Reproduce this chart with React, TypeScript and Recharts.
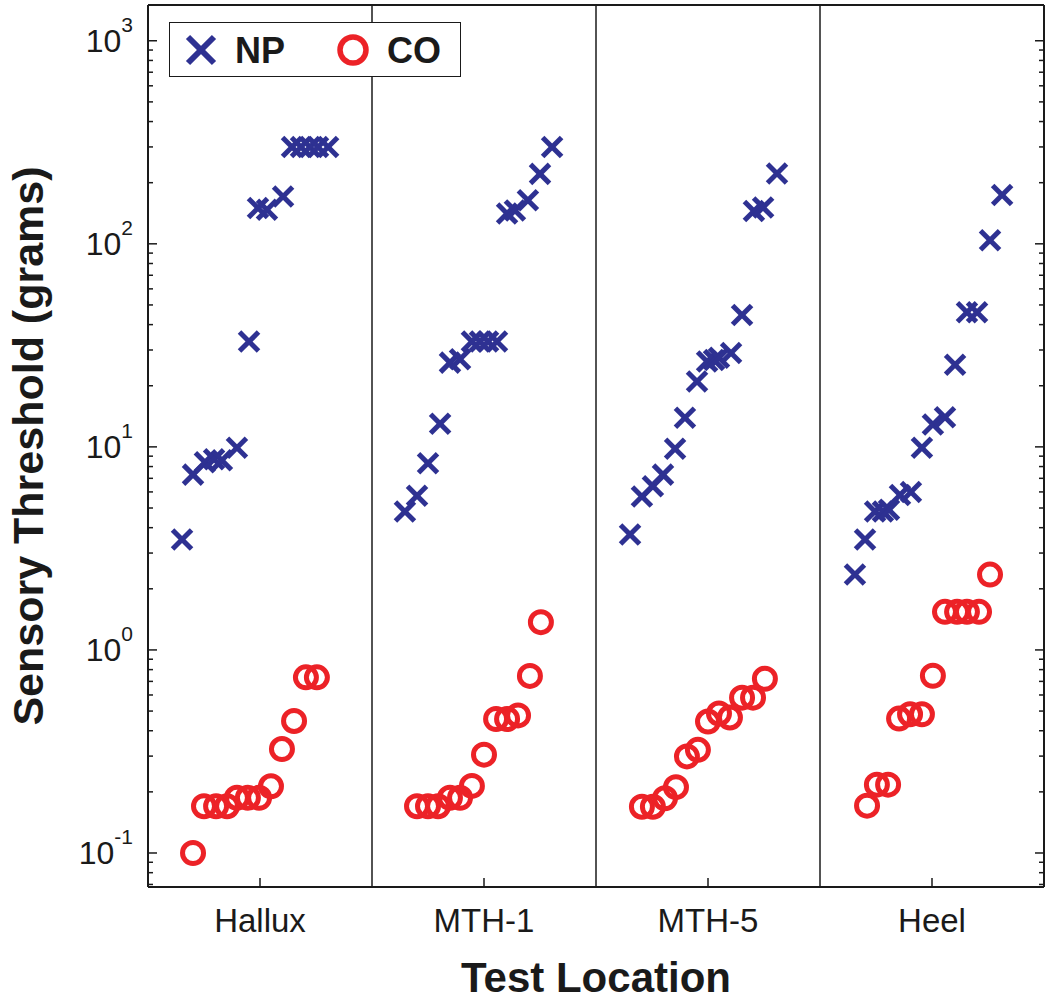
import React from "react";
import { ScatterChart, Scatter, XAxis, YAxis, ReferenceLine } from "recharts";

document.body.style.margin = "0";

const BLUE = "#2E3192";
const RED = "#EC2227";
const INK = "#1a1a1a";
const FONT = "'Liberation Sans', Arial, Helvetica, sans-serif";

// x categories: each location is one unit wide, centred on n + 0.5
const locations = ["Hallux", "MTH-1", "MTH-5", "Heel"];
const locationTicks = [0.5, 1.5, 2.5, 3.5];
const dividers = [1, 2, 3];

// y axis (log), decades with labels
const decadeTicks = [0.1, 1, 10, 100, 1000];
const decadeExponents = ["-1", "0", "1", "2", "3"];
const yDomain = [0.068, 1500];

// NP subjects: position along the x axis and threshold (grams)
const npX = [
  0.152, 0.201, 0.254, 0.295, 0.33, 0.397, 0.451, 0.491, 0.531, 0.603, 0.643, 0.683, 0.723, 0.759, 0.804, // Hallux
  1.147, 1.201, 1.25, 1.304, 1.348, 1.393, 1.446, 1.482, 1.518, 1.558, 1.603, 1.638, 1.696, 1.75, 1.804, // MTH-1
  2.152, 2.205, 2.254, 2.299, 2.353, 2.397, 2.451, 2.496, 2.527, 2.549, 2.603, 2.652, 2.705, 2.746, 2.808, // MTH-5
  3.156, 3.201, 3.246, 3.281, 3.308, 3.357, 3.406, 3.455, 3.504, 3.558, 3.603, 3.656, 3.701, 3.759, 3.813, // Heel
];
const npY = [
  3.5, 7.3, 8.4, 8.7, 8.6, 9.9, 33, 150, 147, 171, 300, 300, 300, 300, 300,
  4.8, 5.75, 8.3, 13, 26, 27, 33, 33, 33, 33, 141, 146, 164, 221, 300,
  3.7, 5.7, 6.4, 7.3, 9.8, 13.9, 21, 26.3, 26.8, 27.5, 29, 44.6, 145, 151, 222,
  2.35, 3.5, 4.8, 4.8, 4.9, 5.8, 6.0, 9.9, 12.9, 14.0, 25.4, 46, 46, 104, 174,
];

// CO subjects
const coX = [
  0.201, 0.25, 0.304, 0.353, 0.397, 0.446, 0.496, 0.549, 0.598, 0.652, 0.705, 0.754,
  1.201, 1.25, 1.295, 1.348, 1.393, 1.446, 1.5, 1.554, 1.603, 1.652, 1.705, 1.754,
  2.205, 2.254, 2.308, 2.357, 2.406, 2.455, 2.5, 2.549, 2.598, 2.652, 2.701, 2.754,
  3.21, 3.254, 3.304, 3.353, 3.402, 3.455, 3.504, 3.558, 3.612, 3.656, 3.71, 3.759,
];
const coY = [
  0.1, 0.17, 0.17, 0.17, 0.187, 0.187, 0.187, 0.213, 0.325, 0.447, 0.733, 0.733,
  0.17, 0.17, 0.17, 0.187, 0.187, 0.214, 0.305, 0.457, 0.457, 0.476, 0.745, 1.37,
  0.169, 0.169, 0.186, 0.211, 0.299, 0.322, 0.444, 0.486, 0.465, 0.582, 0.582, 0.721,
  0.171, 0.217, 0.217, 0.459, 0.482, 0.482, 0.746, 1.54, 1.54, 1.54, 1.54, 2.35,
];

const npData = npX.map((x, i) => ({ x, y: npY[i] }));
const coData = coX.map((x, i) => ({ x, y: coY[i] }));

// log ticks: labelled decades plus unlabelled minor ticks
const yTicks: number[] = [];
[0.01, 0.1, 1, 10, 100, 1000].forEach((d) => {
  for (let k = 1; k <= 9; k++) {
    const v = Number((d * k).toPrecision(3));
    if (v >= yDomain[0] && v <= yDomain[1]) yTicks.push(v);
  }
});

const Cross = (props: any) => {
  const { cx, cy } = props;
  const h = 9.5;
  return (
    <g stroke={BLUE} strokeWidth={5}>
      <line x1={cx - h} y1={cy - h} x2={cx + h} y2={cy + h} />
      <line x1={cx - h} y1={cy + h} x2={cx + h} y2={cy - h} />
    </g>
  );
};

const Ring = (props: any) => {
  const { cx, cy } = props;
  return <circle cx={cx} cy={cy} r={10.5} fill="none" stroke={RED} strokeWidth={5} />;
};

const LeftTick = ({ x, y, payload }: any) => {
  const i = decadeTicks.indexOf(payload.value);
  const major = i >= 0;
  return (
    <g>
      <line x1={x} x2={x + (major ? 9 : 5)} y1={y} y2={y} stroke={INK} strokeWidth={1.5} />
      {major && (
        <text x={x - 15} y={y + 11.5} textAnchor="end" fontFamily={FONT} fontSize={32} fill={INK}>
          <tspan>10</tspan>
          <tspan dy={-20.5} fontSize={21}>
            {decadeExponents[i]}
          </tspan>
        </text>
      )}
    </g>
  );
};

const RightTick = ({ x, y, payload }: any) => {
  const major = decadeTicks.indexOf(payload.value) >= 0;
  return <line x1={x} x2={x - (major ? 9 : 5)} y1={y} y2={y} stroke={INK} strokeWidth={1.5} />;
};

const BottomTick = ({ x, y, payload }: any) => (
  <g>
    <line x1={x} x2={x} y1={y} y2={y - 9} stroke={INK} strokeWidth={1.5} />
    <text x={x} y={y + 45} textAnchor="middle" fontFamily={FONT} fontSize={33} fill={INK}>
      {locations[locationTicks.indexOf(payload.value)]}
    </text>
  </g>
);

const TopTick = ({ x, y }: any) => (
  <line x1={x} x2={x} y1={y} y2={y + 9} stroke={INK} strokeWidth={1.5} />
);

const YTitle = ({ viewBox }: any) => {
  const x = viewBox.x + 43;
  const y = viewBox.y + viewBox.height / 2;
  return (
    <text
      x={x}
      y={y}
      transform={`rotate(-90, ${x}, ${y})`}
      textAnchor="middle"
      fontFamily={FONT}
      fontWeight="bold"
      fontSize={43}
      fill={INK}
    >
      Sensory Threshold (grams)
    </text>
  );
};

const XTitle = ({ viewBox }: any) => (
  <text
    x={viewBox.x + viewBox.width / 2}
    y={viewBox.y + 105}
    textAnchor="middle"
    fontFamily={FONT}
    fontWeight="bold"
    fontSize={42}
    fill={INK}
  >
    Test Location
  </text>
);

function LegendBox() {
  return (
    <div
      style={{
        position: "absolute",
        left: 169,
        top: 22,
        width: 290,
        height: 53,
        border: `1.5px solid ${INK}`,
        background: "#fff",
      }}
    >
      <svg width={290} height={53}>
        <g stroke={BLUE} strokeWidth={6}>
          <line x1={31 - 13} y1={27 - 13} x2={31 + 13} y2={27 + 13} />
          <line x1={31 - 13} y1={27 + 13} x2={31 + 13} y2={27 - 13} />
        </g>
        <text x={65} y={40} fontFamily={FONT} fontWeight="bold" fontSize={36} fill={INK}>
          NP
        </text>
        <circle cx={183} cy={27} r={13} fill="none" stroke={RED} strokeWidth={5.5} />
        <text x={217} y={40} fontFamily={FONT} fontWeight="bold" fontSize={36} fill={INK}>
          CO
        </text>
      </svg>
    </div>
  );
}

export default function App() {
  const axisLine = { stroke: INK, strokeWidth: 2 };
  return (
    <div style={{ position: "relative", width: 1050, height: 1008, background: "#fff" }}>
      <ScatterChart width={1050} height={1008} margin={{ top: 4, right: 5, left: 0, bottom: 0 }}>
        <XAxis
          dataKey="x"
          type="number"
          domain={[0, 4]}
          allowDataOverflow
          ticks={locationTicks}
          interval={0}
          height={121}
          tickSize={0}
          tickMargin={0}
          tickLine={false}
          axisLine={axisLine}
          tick={<BottomTick />}
          label={<XTitle />}
        />
        <XAxis
          xAxisId="top"
          orientation="top"
          type="number"
          domain={[0, 4]}
          ticks={locationTicks}
          interval={0}
          height={1}
          tickSize={0}
          tickMargin={0}
          tickLine={false}
          axisLine={axisLine}
          tick={<TopTick />}
        />
        <YAxis
          dataKey="y"
          type="number"
          scale="log"
          domain={yDomain}
          allowDataOverflow
          ticks={yTicks}
          interval={0}
          width={148}
          tickSize={0}
          tickMargin={0}
          tickLine={false}
          axisLine={axisLine}
          tick={<LeftTick />}
          label={<YTitle />}
        />
        <YAxis
          yAxisId="right"
          orientation="right"
          type="number"
          scale="log"
          domain={yDomain}
          allowDataOverflow
          ticks={yTicks}
          interval={0}
          width={1}
          tickSize={0}
          tickMargin={0}
          tickLine={false}
          axisLine={axisLine}
          tick={<RightTick />}
        />
        {dividers.map((d) => (
          <ReferenceLine key={d} x={d} stroke={INK} strokeWidth={1.5} />
        ))}
        <Scatter name="CO" data={coData} shape={<Ring />} isAnimationActive={false} />
        <Scatter name="NP" data={npData} shape={<Cross />} isAnimationActive={false} />
      </ScatterChart>
      <LegendBox />
    </div>
  );
}
